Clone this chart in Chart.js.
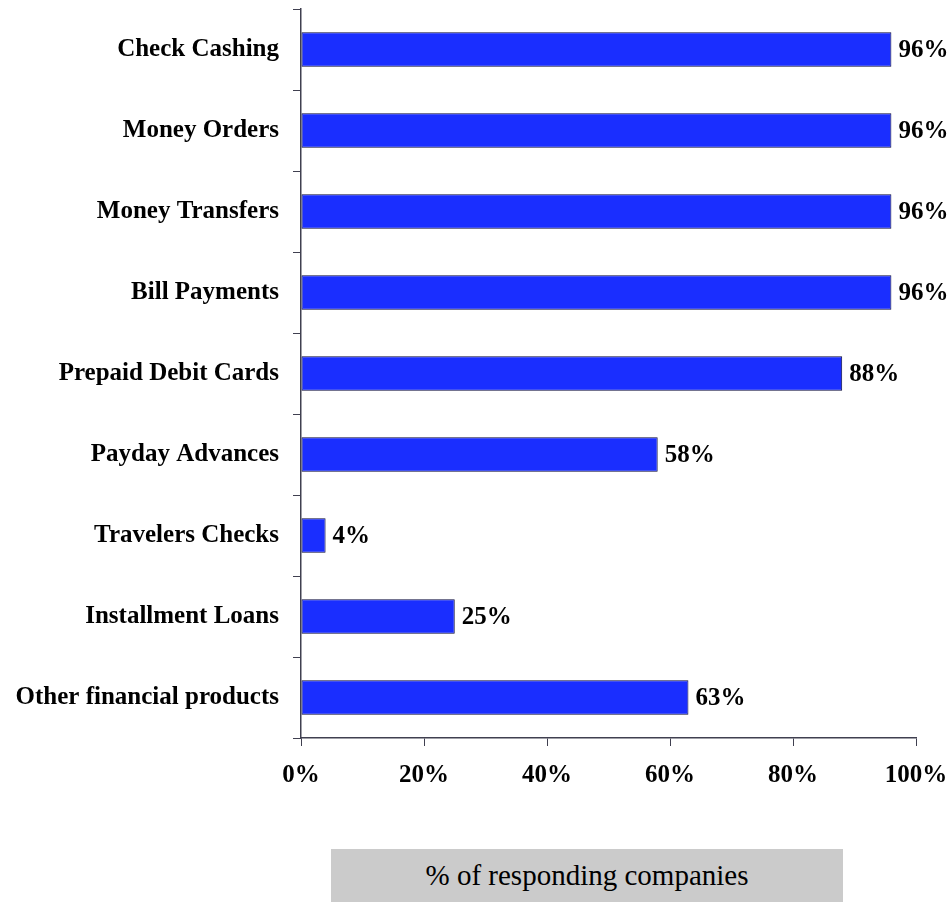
<!DOCTYPE html>
<html>
<head>
<meta charset="utf-8">
<script src="https://cdn.jsdelivr.net/npm/chart.js@4.4.0/dist/chart.umd.min.js"></script>
<style>
    body { margin: 0; background: #fff; }
    #wrap { position: relative; width: 949px; height: 902px; }
    #axisTitle {
        position: absolute; left: 331px; top: 849px; width: 512px; height: 53px;
        background: #cbcbcb; color: #000;
        font-family: 'Liberation Serif', 'Times New Roman', serif; font-size: 29px;
        line-height: 53px; text-align: center;
    }
</style>
</head>
<body>
<div id="wrap">
    <canvas id="barchart"></canvas>
    <div id="axisTitle">% of responding companies</div>
</div>
<script>
var categories = ['Check Cashing', 'Money Orders', 'Money Transfers', 'Bill Payments', 'Prepaid Debit Cards',
    'Payday Advances', 'Travelers Checks', 'Installment Loans', 'Other financial products'];
var shares = [96, 96, 96, 96, 88, 58, 4, 25, 63];
var xTicks = [0, 20, 40, 60, 80, 100];

var serif = "'Liberation Serif', 'Times New Roman', serif";
var axisColor = '#404050';

// value labels at the end of each bar
var valueLabels = {
    id: 'valueLabels',
    afterDatasetsDraw: function(chart) {
        var ctx = chart.ctx;
        var meta = chart.getDatasetMeta(0);
        ctx.save();
        ctx.font = 'bold 25px ' + serif;
        ctx.fillStyle = '#000';
        ctx.textAlign = 'left';
        ctx.textBaseline = 'middle';
        meta.data.forEach(function(bar, i) {
            ctx.fillText(Math.round(shares[i]) + '%', bar.x + 7, bar.y + 1);
        });
        ctx.restore();
    }
};

var chart1 = document.getElementById('barchart');
var myChart1 = new Chart(chart1, {
    type: 'bar',
    data: {
        labels: categories,
        datasets: [{
            data: shares,
            backgroundColor: '#1a2eff',
            borderColor: '#0a0a3c',
            borderWidth: 1,
            borderSkipped: false,
            barPercentage: 0.426,
            categoryPercentage: 1
        }]
    },
    options: {
        indexAxis: 'y',
        responsive: true,
        maintainAspectRatio: false,
        animation: false,
        layout: {
            padding: { top: 9, right: 33, left: 0, bottom: 0 }
        },
        scales: {
            x: {
                min: 0,
                max: 100,
                afterFit: function(scale) {
                    scale.height = 164;
                    scale.paddingLeft = 0;
                    scale.paddingRight = 0;
                },
                afterBuildTicks: function(scale) {
                    scale.ticks = xTicks.map(function(v) { return { value: v }; });
                },
                grid: { drawOnChartArea: false, tickLength: 8, color: axisColor },
                border: { color: axisColor, width: 1.5 },
                ticks: {
                    padding: 15,
                    color: '#000',
                    font: { family: serif, size: 25, weight: 'bold' },
                    callback: function(v) { return v + '%'; }
                }
            },
            y: {
                afterFit: function(scale) {
                    scale.width = 301;
                    scale.paddingTop = 0;
                    scale.paddingBottom = 0;
                },
                grid: { offset: true, drawOnChartArea: false, tickLength: 8, color: axisColor },
                border: { color: axisColor, width: 1.5 },
                ticks: {
                    padding: 14,
                    color: '#000',
                    font: { family: serif, size: 25, weight: 'bold' }
                }
            }
        },
        plugins: {
            legend: { display: false },
            title: { display: false },
            tooltip: { enabled: false }
        }
    },
    plugins: [valueLabels]
});
</script>
</body>
</html>
